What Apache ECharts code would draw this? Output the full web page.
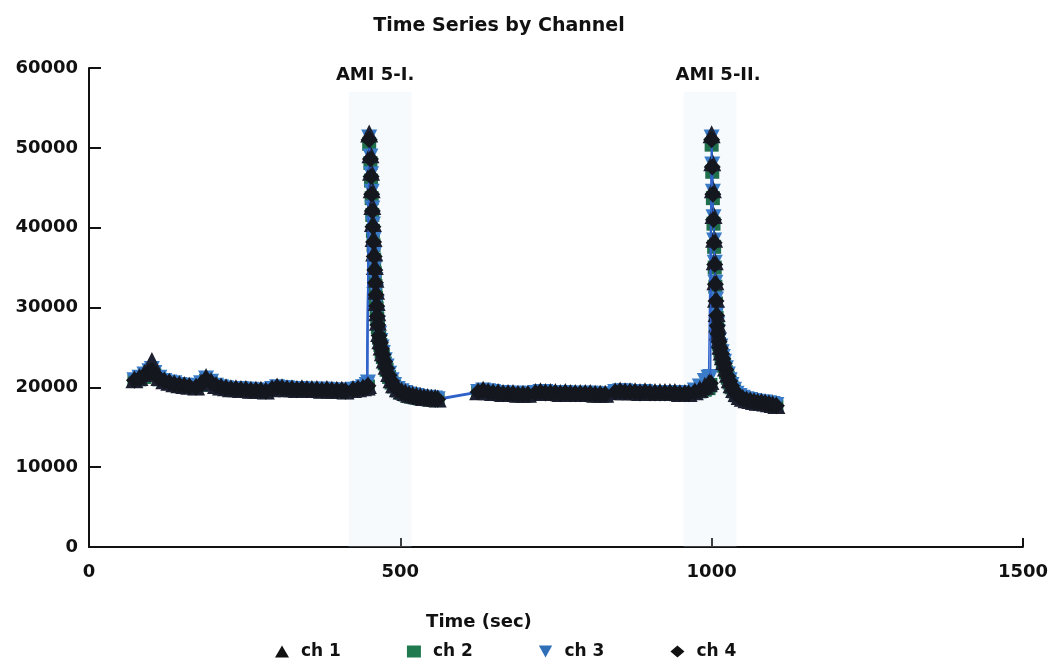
<!DOCTYPE html>
<html>
<head>
<meta charset="utf-8">
<script src="https://cdn.jsdelivr.net/npm/echarts@6/dist/echarts.min.js"></script>
<style>
html,body{margin:0;padding:0;background:#fff;}
#chart{width:1051px;height:659px;}
</style>
</head>
<body>
<div id="chart"></div>
<script>
// Time (sec) for each sample
var time = [
  73, 81, 89, 97, 101, 105, 113, 121, 129, 137, 145, 153, 161,
  172, 180, 188, 196, 204, 212, 220, 228, 236, 244, 252, 260, 268, 276, 284,
  294, 302, 310, 318, 326, 334, 342, 350, 358, 366, 374, 382, 390, 398, 406, 412,
  424, 432, 440, 446,
  448, 450, 452, 453, 454, 455, 456, 457, 458, 459, 460, 461, 462, 463, 464, 466, 468, 470, 472, 475, 478, 482, 486, 490, 496, 502, 508, 514, 520, 526, 532, 538, 544, 550, 556, 560,
  625, 633, 641, 649, 657, 665, 673, 681, 689, 697, 705,
  717, 725, 733, 741, 749, 757, 765, 773, 781, 789, 797, 805, 813, 821, 829,
  845, 853, 861, 869, 877, 885, 893, 901, 909, 917, 925, 933, 941, 949, 957, 963,
  973, 981, 989, 995,
  998, 1000, 1001, 1002, 1003, 1004, 1005, 1006, 1007, 1008, 1009, 1010, 1012, 1014, 1016, 1018, 1020, 1023, 1026, 1029, 1032, 1036, 1040, 1045, 1050, 1056, 1062, 1068, 1074, 1080, 1086, 1092, 1098, 1104
];
var ch1 = [
  21000, 21300, 21800, 22600, 23300, 22300, 21300, 20900, 20700, 20500, 20400, 20300, 20200,
  20100, 20600, 21300, 20800, 20300, 20100, 20000, 19900, 19900, 19800, 19800, 19700, 19700, 19700, 19600,
  19900, 20100, 20000, 19900, 19900, 19800, 19900, 19800, 19800, 19800, 19700, 19800, 19700, 19700, 19700, 19600,
  19800, 19900, 20000, 20100,
  20300, 51800, 49200, 47000, 44800, 42700, 40600, 38700, 36900, 35200, 33600, 32100, 30700, 29400, 28200, 26800, 25900, 25100, 24400, 23500, 22700, 21800, 21000, 20400, 19900, 19600, 19400, 19200, 19100, 19000, 18900, 18800, 18800, 18700, 18700, 18600,
  19500, 19700, 19500, 19400, 19400, 19300, 19300, 19300, 19200, 19200, 19200,
  19400, 19500, 19400, 19400, 19400, 19300, 19400, 19300, 19300, 19300, 19300, 19300, 19200, 19200, 19200,
  19500, 19600, 19500, 19500, 19500, 19400, 19500, 19400, 19400, 19400, 19400, 19400, 19400, 19300, 19300, 19300,
  19500, 19800, 20200, 20500,
  20800, 51700, 48200, 44800, 41600, 38600, 35800, 33300, 31100, 29300, 28000, 27000, 26000, 25200, 24500, 23900, 23300, 22500, 21700, 21000, 20400, 19800, 19300, 18900, 18700, 18500, 18400, 18300, 18200, 18200, 18100, 18000, 17900, 17800
];
var ch2 = [
  20800, 21000, 21300, 21700, 21900, 21500, 21000, 20700, 20500, 20400, 20300, 20200, 20100,
  19900, 20300, 20800, 20500, 20100, 19900, 19800, 19700, 19700, 19600, 19600, 19500, 19500, 19500, 19400,
  19700, 19900, 19800, 19700, 19700, 19600, 19700, 19600, 19600, 19600, 19500, 19600, 19500, 19500, 19500, 19400,
  19600, 19700, 19800, 19900,
  20100, 50500, 48100, 45900, 43700, 41600, 39600, 37800, 36000, 34300, 32700, 31200, 29900, 28600, 27500, 26200, 25300, 24500, 23800, 23000, 22200, 21300, 20600, 20100, 19600, 19300, 19100, 18900, 18800, 18700, 18600, 18600, 18500, 18500, 18400, 18400,
  19300, 19500, 19300, 19200, 19200, 19100, 19100, 19100, 19000, 19000, 19000,
  19200, 19300, 19200, 19200, 19200, 19100, 19200, 19100, 19100, 19100, 19100, 19100, 19000, 19000, 19000,
  19300, 19400, 19300, 19300, 19300, 19200, 19300, 19200, 19200, 19200, 19200, 19200, 19200, 19100, 19100, 19100,
  19300, 19500, 19700, 19900,
  20300, 50400, 47000, 43700, 40500, 37600, 35000, 32600, 30500, 28700, 27400, 26400, 25400, 24600, 23900, 23300, 22700, 21900, 21200, 20600, 20000, 19500, 19000, 18700, 18500, 18300, 18200, 18100, 18000, 18000, 17900, 17800, 17700, 17600
];
var ch3 = [
  20900, 21200, 21600, 22000, 22300, 21800, 21200, 20800, 20600, 20500, 20300, 20200, 20200,
  20000, 20500, 21100, 20700, 20200, 20000, 19900, 19800, 19800, 19800, 19700, 19700, 19600, 19600, 19500,
  19800, 20000, 19900, 19900, 19800, 19800, 19800, 19700, 19700, 19700, 19700, 19700, 19600, 19600, 19600, 19500,
  19700, 19800, 20000, 20300,
  20600, 51300, 48900, 46700, 44500, 42400, 40400, 38500, 36700, 35000, 33400, 31900, 30500, 29200, 28000, 26700, 25800, 25000, 24300, 23400, 22600, 21700, 20900, 20300, 19800, 19500, 19300, 19100, 19000, 18900, 18800, 18700, 18700, 18600, 18600, 18500,
  19400, 19600, 19500, 19400, 19300, 19300, 19200, 19200, 19200, 19100, 19200,
  19300, 19400, 19400, 19300, 19300, 19300, 19300, 19200, 19200, 19200, 19200, 19200, 19200, 19100, 19100,
  19400, 19500, 19500, 19400, 19400, 19400, 19400, 19300, 19300, 19300, 19300, 19300, 19300, 19300, 19200, 19200,
  19600, 20100, 20800, 21200,
  21300, 51300, 47900, 44500, 41300, 38400, 35600, 33100, 31000, 29200, 27900, 26900, 25900, 25100, 24400, 23800, 23200, 22400, 21600, 20900, 20300, 19700, 19200, 18900, 18700, 18500, 18400, 18300, 18200, 18100, 18100, 18000, 17900, 17800
];
var ch4 = [
  20900, 21100, 21500, 21900, 22100, 21700, 21100, 20800, 20600, 20400, 20300, 20200, 20100,
  20000, 20400, 21000, 20600, 20200, 20000, 19900, 19800, 19800, 19700, 19700, 19600, 19600, 19600, 19500,
  19800, 20000, 19900, 19800, 19800, 19700, 19800, 19700, 19700, 19700, 19600, 19700, 19600, 19600, 19600, 19500,
  19700, 19800, 19900, 20000,
  20200, 51000, 48600, 46400, 44200, 42100, 40100, 38200, 36400, 34700, 33100, 31600, 30200, 28900, 27800, 26500, 25600, 24800, 24100, 23200, 22400, 21500, 20800, 20200, 19700, 19400, 19200, 19000, 18900, 18800, 18700, 18700, 18600, 18600, 18500, 18500,
  19400, 19600, 19400, 19300, 19300, 19200, 19200, 19200, 19100, 19100, 19100,
  19300, 19400, 19300, 19300, 19300, 19200, 19300, 19200, 19200, 19200, 19200, 19200, 19100, 19100, 19100,
  19400, 19500, 19400, 19400, 19400, 19300, 19400, 19300, 19300, 19300, 19300, 19300, 19300, 19200, 19200, 19200,
  19400, 19600, 19800, 20000,
  20500, 51000, 47600, 44200, 41000, 38100, 35400, 32900, 30800, 29000, 27700, 26700, 25700, 24900, 24200, 23600, 23000, 22200, 21400, 20800, 20200, 19600, 19100, 18800, 18600, 18400, 18300, 18200, 18100, 18100, 18000, 17900, 17800, 17700
];
// Event bands (time range) and their labels
var bandNames = ['AMI 5-I.', 'AMI 5-II.'];
var bandStart = [417, 955];
var bandEnd = [518, 1040];
var bandTop = 57000;
var seriesNames = ['ch 1', 'ch 2', 'ch 3', 'ch 4'];
var xTicks = [0, 500, 1000, 1500];
var yTicks = [0, 10000, 20000, 30000, 40000, 50000, 60000];

function pairs(arr) {
  var out = [];
  for (var i = 0; i < time.length; i++) out.push([time[i], arr[i]]);
  return out;
}

var FONT = 'DejaVu Sans';
var lineBlue = '#2f62c9';
var colors = ['#1c2030', '#1f6e4c', '#3a7cc8', '#15171f'];

var chart = echarts.init(document.getElementById('chart'), null, {renderer: 'canvas'});

function mkSeries(idx, data, symbol, size, rotate, z) {
  return {
    name: seriesNames[idx],
    type: 'line',
    data: pairs(data),
    symbol: symbol,
    symbolSize: size,
    symbolRotate: rotate,
    showSymbol: true,
    z: z,
    itemStyle: {color: colors[idx], borderWidth: 0},
    lineStyle: {color: lineBlue, width: 1.4},
    emphasis: {disabled: true}
  };
}

var s1 = mkSeries(0, ch1, 'triangle', 18, 0, 4);
var s2 = mkSeries(1, ch2, 'rect', 14, 0, 2);
var s3 = mkSeries(2, ch3, 'triangle', 16, 180, 3);
var s4 = mkSeries(3, ch4, 'diamond', 17, 0, 5);

s2.markArea = {
  silent: true,
  itemStyle: {color: 'rgba(215,232,248,0.22)'},
  label: {
    show: true, position: 'top', distance: 8,
    color: '#111', fontFamily: FONT, fontWeight: 'bold', fontSize: 18
  },
  data: [
    [{name: bandNames[0], coord: [bandStart[0], bandTop], label: {offset: [-5, 0]}}, {coord: [bandEnd[0], 0]}],
    [{name: bandNames[1], coord: [bandStart[1], bandTop], label: {offset: [8, 0]}}, {coord: [bandEnd[1], 0]}]
  ]
};

function plain(v) { return String(v); }

var option = {
  animation: false,
  backgroundColor: '#ffffff',
  title: {
    text: 'Time Series by Channel',
    left: 494, top: 12, textAlign: 'center',
    textStyle: {fontFamily: FONT, fontWeight: 'bold', fontSize: 19, color: '#111'}
  },
  grid: {left: 89, right: 23, top: 68, bottom: 112, containLabel: false},
  legend: {
    left: 270, top: 638,
    itemWidth: 14, itemHeight: 12,
    itemGap: 66,
    textStyle: {fontFamily: FONT, fontWeight: 'bold', fontSize: 17, color: '#111', padding: [0, 0, 0, 7]},
    data: [
      {name: 'ch 1', icon: 'triangle', itemStyle: {color: '#111'}},
      {name: 'ch 2', icon: 'rect', itemStyle: {color: '#1f7a50'}},
      {name: 'ch 3', icon: 'path://M0,0L10,0L5,9Z', itemStyle: {color: '#2f6fb8'}},
      {name: 'ch 4', icon: 'diamond', itemStyle: {color: '#111'}}
    ]
  },
  xAxis: {
    type: 'value',
    min: xTicks[0], max: xTicks[xTicks.length - 1], interval: 500,
    name: 'Time (sec)', nameLocation: 'middle', nameGap: 66,
    nameTextStyle: {fontFamily: FONT, fontWeight: 'bold', fontSize: 18, color: '#111', padding: [0, 154, 0, 0]},
    axisLine: {show: true, lineStyle: {color: '#111', width: 2}},
    axisTick: {show: true, inside: true, length: 9, lineStyle: {color: '#111', width: 2}},
    axisLabel: {fontFamily: FONT, fontWeight: 'bold', fontSize: 18, color: '#111', margin: 16, formatter: plain},
    splitLine: {show: false}
  },
  yAxis: {
    type: 'value',
    min: yTicks[0], max: yTicks[yTicks.length - 1], interval: 10000,
    axisLine: {show: true, lineStyle: {color: '#111', width: 2}},
    axisTick: {show: true, inside: true, length: 12, lineStyle: {color: '#111', width: 2}},
    axisLabel: {fontFamily: FONT, fontWeight: 'bold', fontSize: 18, color: '#111', margin: 11, formatter: plain},
    splitLine: {show: false}
  },
  series: [s1, s2, s3, s4]
};
chart.setOption(option);
</script>
</body>
</html>
